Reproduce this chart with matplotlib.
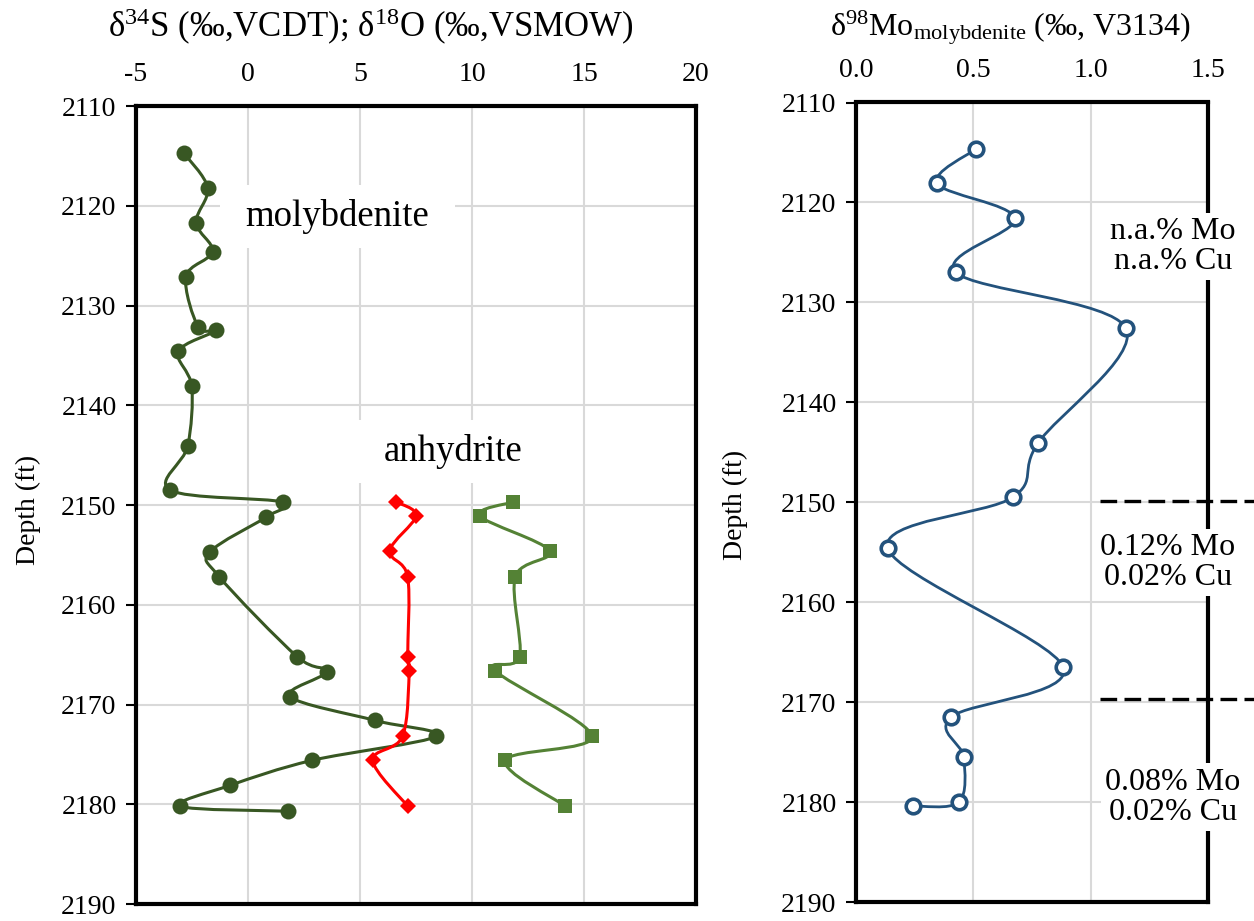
import matplotlib
matplotlib.use("Agg")
import matplotlib.pyplot as plt
import numpy as np
from matplotlib.path import Path
from matplotlib.patches import PathPatch, Rectangle

plt.rcParams["font.family"] = ["Liberation Serif", "DejaVu Serif"]
plt.rcParams["mathtext.fontset"] = "custom"
plt.rcParams["mathtext.rm"] = "Liberation Serif"
plt.rcParams["mathtext.it"] = "Liberation Serif"
plt.rcParams["axes.unicode_minus"] = False

# molybdenite d34S
moly_depth = [2114.7, 2118.2, 2121.7, 2124.6, 2127.1, 2132.2, 2132.5, 2134.6, 2138.1, 2144.1,
              2148.5, 2149.7, 2151.2, 2154.7, 2157.2, 2165.2, 2166.7, 2169.2, 2171.6, 2173.2,
              2175.6, 2178.1, 2180.2, 2180.7]
moly_d34s = [-2.87, -1.80, -2.32, -1.58, -2.77, -2.22, -1.43, -3.11, -2.51, -2.69,
             -3.48, 1.55, 0.82, -1.68, -1.28, 2.19, 3.51, 1.88, 5.67, 8.39,
             2.86, -0.79, -3.02, 1.80]

# anhydrite d34S and d18O
anh_depth = [2149.7, 2151.1, 2154.6, 2157.2, 2165.2, 2166.6, 2173.2, 2175.6, 2180.2]
anh_d34s = [6.62, 7.50, 6.33, 7.13, 7.13, 7.20, 6.90, 5.57, 7.13]
anh_d18o = [11.84, 10.36, 13.46, 11.93, 12.13, 11.04, 15.36, 11.49, 14.17]

# molybdenite d98Mo
mo_depth = [2114.65, 2118.1, 2121.6, 2127.0, 2132.6, 2144.1, 2149.5, 2154.6, 2166.5,
            2171.5, 2175.5, 2180.0, 2180.4]
mo_d98 = [0.511, 0.346, 0.677, 0.426, 1.150, 0.775, 0.668, 0.135, 0.883,
          0.405, 0.459, 0.439, 0.243]

grade_bounds = [2149.9, 2169.7]
grade_labels = ["n.a.% Mo\nn.a.% Cu", "0.12% Mo\n0.02% Cu", "0.08% Mo\n0.02% Cu"]
grade_label_pos = [(1.351, 2124.4), (1.329, 2156.0), (1.351, 2179.5)]

GRID = "#d9d9d9"


def smooth_path(x, y):
    # excel style smoothed line: cubic bezier through every point
    p = np.column_stack([x, y]).astype(float)
    ext = np.vstack([p[0], p, p[-1]])
    verts = [p[0]]
    codes = [Path.MOVETO]
    for i in range(len(p) - 1):
        c1 = ext[i + 1] + (ext[i + 2] - ext[i]) / 6.0
        c2 = ext[i + 2] - (ext[i + 3] - ext[i + 1]) / 6.0
        verts += [c1, c2, p[i + 1]]
        codes += [Path.CURVE4] * 3
    return Path(verts, codes)


def draw_series(ax, x, y, color, marker, ms, mfc=None, mew=0.0, lw=2.2):
    ax.add_patch(PathPatch(smooth_path(x, y), facecolor="none", edgecolor=color, lw=lw, zorder=3))
    ax.plot(x, y, ls="none", marker=marker, ms=ms, color=color,
            mfc=mfc if mfc else color, mec=color, mew=mew, zorder=4)


def style_axes(ax):
    ax.set_ylim(2190, 2110)
    ax.set_yticks(range(2110, 2191, 10))
    ax.xaxis.tick_top()
    ax.tick_params(axis="x", length=0, pad=14, labelsize=20)
    ax.tick_params(axis="y", direction="out", length=7, width=1.5, pad=7, labelsize=20)
    ax.grid(True, color=GRID, lw=1.5, zorder=0)
    ax.set_axisbelow(True)
    for s in ax.spines.values():
        s.set_linewidth(3.0)
        s.set_color("black")


fig = plt.figure(figsize=(12.54, 9.21), dpi=100)
W, H = 1254, 921

ax1 = fig.add_axes([136 / W, 1 - 904 / H, 560 / W, 798 / H])
ax1.set_xlim(-5, 20)
ax1.set_xticks(range(-5, 21, 5))
style_axes(ax1)

draw_series(ax1, moly_d34s, moly_depth, "#385723", "o", 11.5)
draw_series(ax1, anh_d34s, anh_depth, "#ff0000", "D", 8.5)
draw_series(ax1, anh_d18o, anh_depth, "#548235", "s", 10.5)

ax1.add_patch(Rectangle((-1.25, 2117.9), 10.5, 6.3, facecolor="white", edgecolor="none", zorder=1))
ax1.text(4.0, 2121.1, "molybdenite", fontsize=26.5, ha="center", va="center", zorder=5)
ax1.add_patch(Rectangle((4.75, 2141.5), 8.7, 6.3, facecolor="white", edgecolor="none", zorder=1))
ax1.text(9.15, 2144.6, "anhydrite", fontsize=26.5, ha="center", va="center", zorder=5)

ax2 = fig.add_axes([856 / W, 1 - 902 / H, 352 / W, 799.5 / H])
ax2.set_xlim(0, 1.5)
ax2.set_xticks([0, 0.5, 1.0, 1.5])
ax2.set_xticklabels(["0.0", "0.5", "1.0", "1.5"])
style_axes(ax2)

draw_series(ax2, mo_d98, mo_depth, "#23527c", "o", 10.5, mfc="white", mew=2.6, lw=2.0)

for d in grade_bounds:
    ax2.plot([1.04, 1.70], [d, d], color="black", lw=2.4, ls=(0, (5, 2.2)), clip_on=False, zorder=6)

for (gx, gy), lab in zip(grade_label_pos, grade_labels):
    ax2.text(gx, gy, lab, fontsize=23, ha="center", va="center", linespacing=1.05, zorder=7,
             clip_on=False, bbox=dict(facecolor="white", edgecolor="none", pad=3))

fig.text(371 / W, 1 - 27 / H,
         r"δ$^{\mathregular{34}}$S (‰,VCDT); δ$^{\mathregular{18}}$O (‰,VSMOW)",
         fontsize=25, ha="center", va="center")
fig.text(1010 / W, 1 - 28 / H,
         r"δ$^{\mathregular{98}}$Mo$_{\mathregular{molybdenite}}$ (‰, V3134)",
         fontsize=23, ha="center", va="center")
fig.text(28 / W, 1 - 510 / H, "Depth (ft)", fontsize=20, rotation=90, ha="center", va="center")
fig.text(735 / W, 1 - 505 / H, "Depth (ft)", fontsize=20, rotation=90, ha="center", va="center")

fig.savefig("out.png", dpi=100)
